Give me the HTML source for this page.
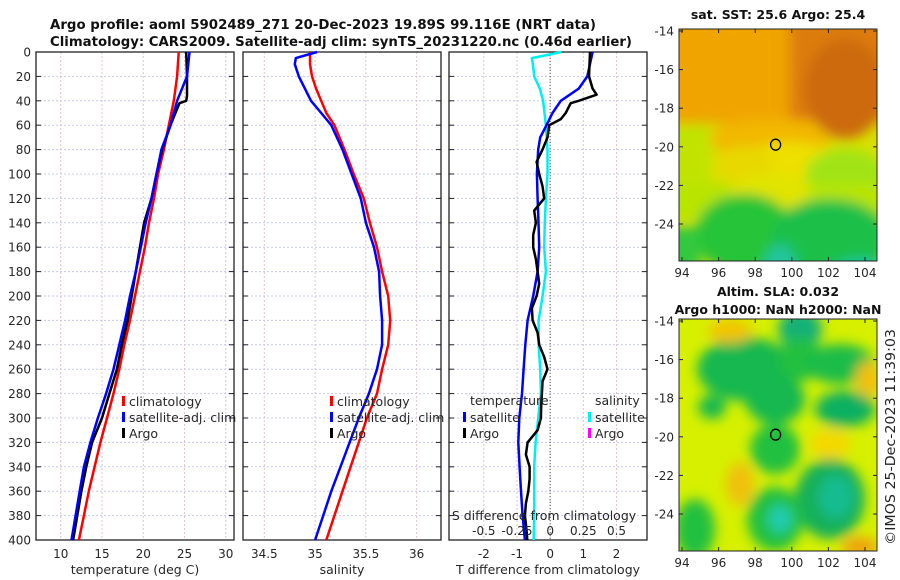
<!DOCTYPE html>
<html><head><meta charset="utf-8"><style>
body{margin:0;background:#fff;}
svg{display:block;font-family:"DejaVu Sans","Liberation Sans",sans-serif;}
</style></head><body>
<svg id="fig" width="900" height="580" viewBox="0 0 900 580">
<defs>
<filter id="blur1" x="-20%" y="-20%" width="140%" height="140%"><feGaussianBlur stdDeviation="6"/></filter>
<filter id="blur2" x="-20%" y="-20%" width="140%" height="140%"><feGaussianBlur stdDeviation="6"/></filter>
<clipPath id="clipM1"><rect x="679" y="29" width="198" height="232"/></clipPath>
<clipPath id="clipM2"><rect x="679" y="319" width="198" height="232"/></clipPath>
</defs>
<g font-weight="bold" font-size="13" fill="#111">
<text x="50" y="29" textLength="546" lengthAdjust="spacingAndGlyphs">Argo profile: aoml 5902489_271 20-Dec-2023 19.89S 99.116E (NRT data)</text>
<text x="50" y="46" textLength="582" lengthAdjust="spacingAndGlyphs">Climatology: CARS2009. Satellite-adj clim: synTS_20231220.nc (0.46d earlier)</text>
</g>
<g id="plots"></g>
<g id="maps"></g>
<text x="895" y="437" transform="rotate(-90 895 437)" font-size="13" fill="#222" text-anchor="middle" textLength="216" lengthAdjust="spacingAndGlyphs">©IMOS 25-Dec-2023 11:39:03</text>
</svg>
<script>
// ---- data ----
const depths = [0,20,40,60,80,100,120,140,160,180,200,220,240,260,280,300,320,340,360,380,400];
const tempClim = [24.3,24.1,23.7,23.1,22.5,21.8,21.3,20.7,20.2,19.6,19.0,18.4,17.7,17.1,16.4,15.6,14.8,14.1,13.4,12.8,12.2];
const tempSat  = [25.6,25.3,24.1,23.3,22.2,21.6,21.0,20.3,19.7,19.1,18.4,17.8,17.1,16.4,15.5,14.5,13.6,12.8,12.3,11.8,11.3];
const argoDepths = [0,20,36,40,42,50,60,80,100,120,140,160,180,200,220,240,260,280,300,320,340,360,380,400];
const tempArgo = [25.2,25.3,25.3,25.2,24.4,23.9,23.3,22.3,21.6,21.0,20.1,19.6,19.1,18.6,18.1,17.4,16.8,15.9,15.0,13.8,13.1,12.5,12.0,11.5];
const salDepths = [0,5,10,20,30,40,50,60,80,100,120,140,160,180,200,220,240,260,280,300,320,340,360,380,400];
const salClim = [34.95,34.95,34.95,34.97,35.01,35.06,35.11,35.19,35.29,35.38,35.48,35.54,35.61,35.66,35.72,35.74,35.72,35.66,35.61,35.51,35.43,35.35,35.27,35.19,35.11];
const salSat  = [35.02,34.81,34.8,34.84,34.9,34.96,35.06,35.16,35.27,35.36,35.45,35.5,35.58,35.63,35.64,35.66,35.66,35.61,35.53,35.43,35.34,35.25,35.16,35.08,35.0];
const dDepths = [0,20,30,40,50,60,70,80,100,120,140,160,180,200,220,240,260,280,300,320,340,360,380,400];
const tDiffSat = [1.28,1.12,0.86,0.32,0.07,-0.11,-0.3,-0.36,-0.4,-0.38,-0.35,-0.33,-0.38,-0.51,-0.68,-0.75,-0.8,-0.85,-0.93,-0.96,-0.92,-0.88,-0.83,-0.76];
const tdArgoDepths = [0,20,30,35,40,42,50,55,60,70,80,90,100,110,120,130,140,150,160,170,180,190,200,210,220,230,240,250,260,270,280,290,300,310,320,330,340,350,360,370,380,390,400];
const tDiffArgo = [1.2,1.17,1.28,1.4,0.86,0.62,0.47,0.32,-0.03,-0.08,-0.23,-0.41,-0.33,-0.23,-0.18,-0.48,-0.43,-0.51,-0.51,-0.43,-0.38,-0.33,-0.41,-0.55,-0.53,-0.38,-0.33,-0.18,-0.08,-0.23,-0.25,-0.27,-0.28,-0.38,-0.68,-0.73,-0.62,-0.62,-0.66,-0.73,-0.76,-0.72,-0.69];
const sdDepths = [0,5,10,20,30,40,60,80,100,120,140,160,180,200,220,240,260,280,300,320,340,360,380,400];
const sDiffSat = [0.086,-0.138,-0.13,-0.12,-0.078,-0.053,-0.032,-0.02,-0.02,-0.032,-0.04,-0.045,-0.032,-0.057,-0.087,-0.087,-0.075,-0.07,-0.09,-0.11,-0.12,-0.12,-0.12,-0.125];
const depthTicks = [0,20,40,60,80,100,120,140,160,180,200,220,240,260,280,300,320,340,360,380,400];
const tempTicks = [10,15,20,25,30];
const salTicks = [34.5,35,35.5,36];
const tdTicks = [-2,-1,0,1,2];
const sdTicks = [-0.5,-0.25,0,0.25,0.5];
const sdTickLabels = ["-0.5","-0.25","0","0.25","0.5"];
const latTicks = [-14,-16,-18,-20,-22,-24];
const lonTicks = [94,96,98,100,102,104];
const argoLon = 99.116, argoLat = -19.89;

// ---- scales ----
const NS='http://www.w3.org/2000/svg';
const Y0=52, Y1=540;
const yD = d => Y0 + (Y1-Y0)*d/400;
const P1={x0:36,x1:234,v0:7.0,v1:31.0};
const P2={x0:243,x1:441,v0:34.29,v1:36.24};
const P3={x0:449,x1:647,v0:-3.05,v1:2.92};
const sx = (p,v) => p.x0 + (v-p.v0)/(p.v1-p.v0)*(p.x1-p.x0);
const sxS = v => sx(P3, v*4);
const plots=document.getElementById('plots');
function mk(tag,attrs,parent){const e=document.createElementNS(NS,tag);for(const k in attrs)e.setAttribute(k,attrs[k]);(parent||plots).appendChild(e);return e;}
function txt(x,y,s,size,anchor,parent){const t=mk('text',{x:x,y:y,'font-size':size,'text-anchor':anchor||'middle',fill:'#262626'},parent);t.textContent=s;return t;}

function panel(p,name,xticks,xfmt,xlabel,ylabels){
  const g=mk('g',{});
  
  
  depthTicks.forEach(d=>{ if(d>0&&d<400){const l=mk('line',{x1:p.x0,x2:p.x1,y1:yD(d),y2:yD(d),stroke:'#c4c8ea','stroke-width':1,'stroke-dasharray':'2,2'},g);
    
    }});
  xticks.forEach(v=>{const x=sx(p,v);const l=mk('line',{x1:x,x2:x,y1:Y0,y2:Y1,stroke:'#dcc4d0','stroke-width':1,'stroke-dasharray':'2,2'},g);
    
    });
  depthTicks.forEach(d=>{mk('line',{x1:p.x0,x2:p.x0+5,y1:yD(d),y2:yD(d),stroke:'#222'},g);mk('line',{x1:p.x1-5,x2:p.x1,y1:yD(d),y2:yD(d),stroke:'#222'},g);
    if(ylabels){const t=txt(31,yD(d)+4.5,String(d),12,'end',g);
      
      }});
  const r=mk('rect',{x:p.x0,y:Y0,width:p.x1-p.x0,height:Y1-Y0,fill:'none',stroke:'#222','stroke-width':1.3},g);
  
  
  if(xfmt){xticks.forEach(v=>{const t=txt(sx(p,v),558,xfmt(v),12,'middle',g);
    
    });}
  if(xlabel){const t=txt((p.x0+p.x1)/2,574,xlabel,12.5,'middle',g);
    
    }
  return g;
}
function line(g,xs,ds,xf,color,w,name){
  const pts=xs.map((v,i)=>xf(v).toFixed(1)+','+yD(ds[i]).toFixed(1)).join(' ');
  const l=mk('polyline',{points:pts,fill:'none',stroke:color,'stroke-width':w,'stroke-linejoin':'round'},g);
  
  
}
function legend(g,x,y,items){
  items.forEach((it,i)=>{const yy=y+i*16;
    mk('rect',{x:x,y:yy-10,width:3,height:10,fill:it[1]},g);
    const t=txt(x+7,yy,it[0],12.5,'start',g);
    
    });
}
// panel 1 temperature
const g1=panel(P1,'temperature-panel',tempTicks,v=>String(v),'temperature (deg C)',true);
line(g1,tempClim,depths,v=>sx(P1,v),'#ff0000',2.5,'temp-climatology-line');
line(g1,tempArgo,argoDepths,v=>sx(P1,v),'#000000',2.5,'temp-argo-line');
line(g1,tempSat,depths,v=>sx(P1,v),'#0000ff',2.5,'temp-satellite-line');
legend(g1,122,406,[['climatology','#ff0000'],['satellite-adj. clim','#0000ff'],['Argo','#000']]);
// panel 2 salinity
const g2=panel(P2,'salinity-panel',salTicks,v=>String(v),'salinity',false);
line(g2,salClim,salDepths,v=>sx(P2,v),'#ff0000',2.5,'sal-climatology-line');
line(g2,salSat,salDepths,v=>sx(P2,v),'#0000ff',2.5,'sal-satellite-line');
legend(g2,330,406,[['climatology','#ff0000'],['satellite-adj. clim','#0000ff'],['Argo','#000']]);
// panel 3 differences
const g3=panel(P3,'difference-panel',tdTicks,v=>String(v),'T difference from climatology',false);
mk('line',{x1:sx(P3,0),x2:sx(P3,0),y1:Y0,y2:Y1,stroke:'#555','stroke-width':1,'stroke-dasharray':'1,2'},g3);
line(g3,sDiffSat,sdDepths,sxS,'#00f0f0',2.5,'sal-diff-satellite-line');
line(g3,tDiffSat,dDepths,v=>sx(P3,v),'#0000ff',2.5,'temp-diff-satellite-line');
line(g3,tDiffArgo,tdArgoDepths,v=>sx(P3,v),'#000000',2.5,'temp-diff-argo-line');
let t3=txt(470,405,'temperature',12.5,'start',g3);


t3=txt(595,405,'salinity',12.5,'start',g3);


legend(g3,463,422,[['satellite','#0000ff'],['Argo','#000']]);
legend(g3,588,422,[['satellite','#00f0f0'],['Argo','#ff00ff']]);
t3=txt(544,520,'S difference from climatology',12.5,'middle',g3);


sdTicks.forEach((v,i)=>{const t=txt(sxS(v),535,sdTickLabels[i],12,'middle',g3);
  
  });

// ---- maps ----
const maps=document.getElementById('maps');
const MX0=679,MX1=877;
const mxl = lon => 682 + (lon-94)*18.3;
function map(top,name,title,title2,shapes,base){
  const g=mk('g',{},maps);
  
  
  const my = lat => top+2 + (-14-lat)*19.3;
  const c=mk('g',{'clip-path':'url(#'+(top<100?'clipM1':'clipM2')+')'},g);
  mk('rect',{x:MX0,y:top,width:198,height:232,fill:base},c);
  const b=mk('g',{filter:top<100?'url(#blur1)':'url(#blur2)'},c);
  shapes.forEach(s=>{ if(s[0]==='r') mk('rect',{x:s[1],y:top+s[2],width:s[3],height:s[4],fill:s[5]},b);
    else mk('ellipse',{cx:s[1],cy:top+s[2],rx:s[3],ry:s[4],fill:s[5]},b);});
  mk('rect',{x:MX0,y:top,width:198,height:232,fill:'none',stroke:'#222','stroke-width':1},g);
  latTicks.forEach(l=>{const y=my(l);mk('line',{x1:MX0,x2:MX0+4,y1:y,y2:y,stroke:'#222'},g);mk('line',{x1:MX1-4,x2:MX1,y1:y,y2:y,stroke:'#222'},g);
    const t=txt(674,y+4.5,String(l),12,'end',g);
    
    });
  lonTicks.forEach(l=>{const x=mxl(l);mk('line',{x1:x,x2:x,y1:top+228,y2:top+232,stroke:'#222'},g);mk('line',{x1:x,x2:x,y1:top,y2:top+4,stroke:'#222'},g);
    const t=txt(x,top+248,String(l),12,'middle',g);
    
    });
  const m=mk('ellipse',{cx:mxl(argoLon),cy:my(argoLat),rx:5,ry:5.5,fill:'none',stroke:'#000','stroke-width':1.3},g);
  
  
  const tt=mk('text',{x:778,y:top-(title2?23:10),'font-size':12.5,'font-weight':'bold','text-anchor':'middle',fill:'#111'},g);
  tt.textContent=title;
  
  
  if(title2){const t2=mk('text',{x:778,y:top-5,'font-size':12.5,'font-weight':'bold','text-anchor':'middle',fill:'#111'},g);
    t2.textContent=title2;
    
    }
}
map(29,'sst-map','sat. SST: 25.6 Argo: 25.4',null,[
 ['r',660,-20,240,115,'#f0a400'],
 ['r',790,-20,110,110,'#dc7c0c'],
 ['e',845,60,40,50,'#cc6a10'],
 ['r',660,95,50,70,'#c0e400'],
 ['e',770,110,60,20,'#f2b800'],
 ['e',790,135,50,22,'#eee000'],
 ['e',745,135,30,18,'#e8d800'],
 ['e',845,145,40,25,'#a0e414'],
 ['r',660,155,240,35,'#b8e400'],
 ['e',770,162,40,18,'#e0e400'],
 ['e',745,205,50,40,'#28c438'],
 ['e',830,210,60,40,'#1cc048'],
 ['r',660,198,40,80,'#30c840'],
 ['e',780,245,18,30,'#24c49c'],
 ['e',860,250,30,20,'#18c8a8']
],'#d8e000');
map(319,'sla-map','Altim. SLA: 0.032','Argo h1000: NaN h2000: NaN',[
 ['e',745,50,48,32,'#14b850'],
 ['e',800,10,22,20,'#14b078'],
 ['e',800,40,22,22,'#20c040'],
 ['e',840,45,35,20,'#1cbc48'],
 ['e',775,80,30,25,'#18b850'],
 ['e',845,90,30,18,'#10b060'],
 ['e',712,88,14,12,'#18b850'],
 ['e',775,130,25,25,'#20c040'],
 ['e',830,180,35,40,'#14b058'],
 ['e',836,178,18,22,'#18bc90'],
 ['e',775,200,28,32,'#20c040'],
 ['e',780,200,12,14,'#24ccb0'],
 ['e',695,210,20,30,'#20c040'],
 ['e',730,12,22,12,'#f2c400'],
 ['e',740,165,14,22,'#f0c010'],
 ['e',868,60,12,18,'#f0c010'],
 ['e',860,228,18,10,'#f0a010'],
 ['e',830,125,20,15,'#f4d800']
],'#d6f000');
</script>
</body></html>
